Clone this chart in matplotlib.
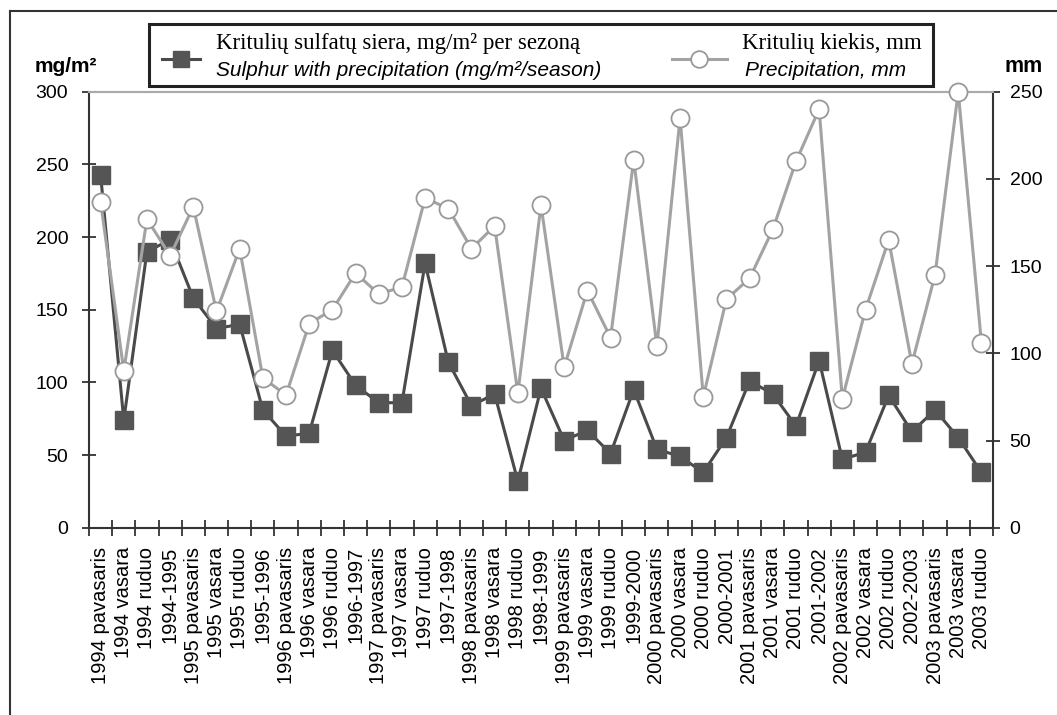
import matplotlib
matplotlib.use("Agg")
import matplotlib.pyplot as plt
from matplotlib.lines import Line2D
from matplotlib.patches import Rectangle

plt.rcParams['font.family'] = ['Liberation Sans', 'DejaVu Sans']

categories = [
    "1994 pavasaris", "1994 vasara", "1994 ruduo", "1994-1995",
    "1995 pavasaris", "1995 vasara", "1995 ruduo", "1995-1996",
    "1996 pavasaris", "1996 vasara", "1996 ruduo", "1996-1997",
    "1997 pavasaris", "1997 vasara", "1997 ruduo", "1997-1998",
    "1998 pavasaris", "1998 vasara", "1998 ruduo", "1998-1999",
    "1999 pavasaris", "1999 vasara", "1999 ruduo", "1999-2000",
    "2000 pavasaris", "2000 vasara", "2000 ruduo", "2000-2001",
    "2001 pavasaris", "2001 vasara", "2001 ruduo", "2001-2002",
    "2002 pavasaris", "2002 vasara", "2002 ruduo", "2002-2003",
    "2003 pavasaris", "2003 vasara", "2003 ruduo",
]

sulphur = [243, 74, 190, 198, 158, 137, 140, 81, 63, 65,
           122, 98, 86, 86, 182, 114, 84, 92, 32, 96,
           60, 67, 51, 95, 54, 49, 38, 62, 101, 92,
           70, 115, 47, 52, 91, 66, 81, 62, 38]

precip = [187, 90, 177, 156, 184, 124, 160, 86, 76, 117,
          125, 146, 134, 138, 189, 183, 160, 173, 77, 185,
          92, 136, 109, 211, 104, 235, 75, 131, 143, 171,
          210, 240, 74, 125, 165, 94, 145, 250, 106]

left_ticks = [0, 50, 100, 150, 200, 250, 300]
right_ticks = [0, 50, 100, 150, 200, 250]

dark = '#555555'
light = '#a3a3a3'
axis_col = '#333333'

fig = plt.figure(figsize=(10.57, 7.15), dpi=100)
ax = fig.add_axes([89/1057, 1-527.7/715, (993-89)/1057, (527.7-91.7)/715])
ax2 = ax.twinx()

x = list(range(len(categories)))
ax.plot(x, sulphur, color='#4a4a4a', lw=2.2, marker='s', markersize=12.5,
        markerfacecolor=dark, markeredgecolor=dark, clip_on=False, zorder=3)
ax2.plot(x, precip, color=light, lw=2.2, marker='o', markersize=13,
         markerfacecolor='white', markeredgecolor='#999999', markeredgewidth=1.3,
         clip_on=False, zorder=3)

ax.set_xlim(-0.5, len(categories) - 0.5)
ax.set_ylim(0, 300)
ax2.set_ylim(0, 250)
ax.set_yticks(left_ticks)
ax2.set_yticks(right_ticks)

ax.set_xticks([i - 0.5 for i in range(len(categories) + 1)])
ax.set_xticklabels([])
ax.set_xticks(x, minor=True)
ax.set_xticklabels(categories, minor=True, rotation=90, fontsize=14.5)
ax.tick_params(axis='x', which='major', direction='inout', length=11, width=1.3, color=axis_col)
ax.tick_params(axis='x', which='minor', length=0, pad=14)
ax.tick_params(axis='y', direction='inout', length=10, width=1.3, color=axis_col,
               labelsize=14, pad=10)
ax2.tick_params(axis='y', direction='inout', length=10, width=1.3, color=axis_col,
                labelsize=14, pad=7)

for a in (ax, ax2):
    for s in ('left', 'right', 'bottom'):
        a.spines[s].set_color(axis_col)
        a.spines[s].set_linewidth(1.5)
    a.spines['top'].set_color('#aaaaaa')
    a.spines['top'].set_linewidth(1.5)
ax.spines['right'].set_visible(False)
ax2.spines['left'].set_visible(False)
ax2.spines['bottom'].set_visible(False)

# axis unit labels
fig.text(35/1057, 1-72/715, 'mg/m²', fontsize=15, fontweight='bold', ha='left', va='baseline')
fig.text(1005/1057, 1-72/715, 'mm', fontsize=15.5, fontweight='bold', ha='left', va='baseline')

# outer frame (left and top only)
fig.add_artist(Line2D([10/1057, 10/1057], [0, 1-11/715], transform=fig.transFigure,
                      color=axis_col, lw=1.5))
fig.add_artist(Line2D([10/1057, 1], [1-11/715, 1-11/715], transform=fig.transFigure,
                      color=axis_col, lw=1.5))

# legend box
fig.add_artist(Rectangle((149/1057, 1-86/715), (933-149)/1057, (86-24)/715,
                         transform=fig.transFigure, fill=True, facecolor='white',
                         edgecolor='#222222', lw=2.2, zorder=5))
hy = 1 - 59/715
fig.add_artist(Line2D([162/1057, 200/1057], [hy, hy], transform=fig.transFigure,
                      color='#4a4a4a', lw=2.2, zorder=6))
fig.add_artist(Line2D([181/1057], [hy], transform=fig.transFigure, marker='s',
                      markersize=11.5, color=dark, zorder=6))
fig.add_artist(Line2D([672/1057, 727/1057], [hy, hy], transform=fig.transFigure,
                      color=light, lw=2.2, zorder=6))
fig.add_artist(Line2D([699/1057], [hy], transform=fig.transFigure, marker='o',
                      markersize=12, markerfacecolor='white', markeredgecolor='#999999',
                      markeredgewidth=1.3, zorder=6))

serif = ['Liberation Serif', 'DejaVu Serif']
fig.text(216/1057, 1-44/715, 'Kritulių sulfatų siera, mg/m² per sezoną',
         family=serif, fontsize=16.5, va='center', ha='left', zorder=7)
fig.text(216/1057, 1-70/715, 'Sulphur with precipitation (mg/m²/season)',
         fontsize=15, style='italic', va='center', ha='left', zorder=7)
fig.text(742/1057, 1-44/715, 'Kritulių kiekis, mm',
         family=serif, fontsize=16.5, va='center', ha='left', zorder=7)
fig.text(745/1057, 1-70/715, 'Precipitation, mm',
         fontsize=15, style='italic', va='center', ha='left', zorder=7)

fig.savefig('out.png', dpi=100)
